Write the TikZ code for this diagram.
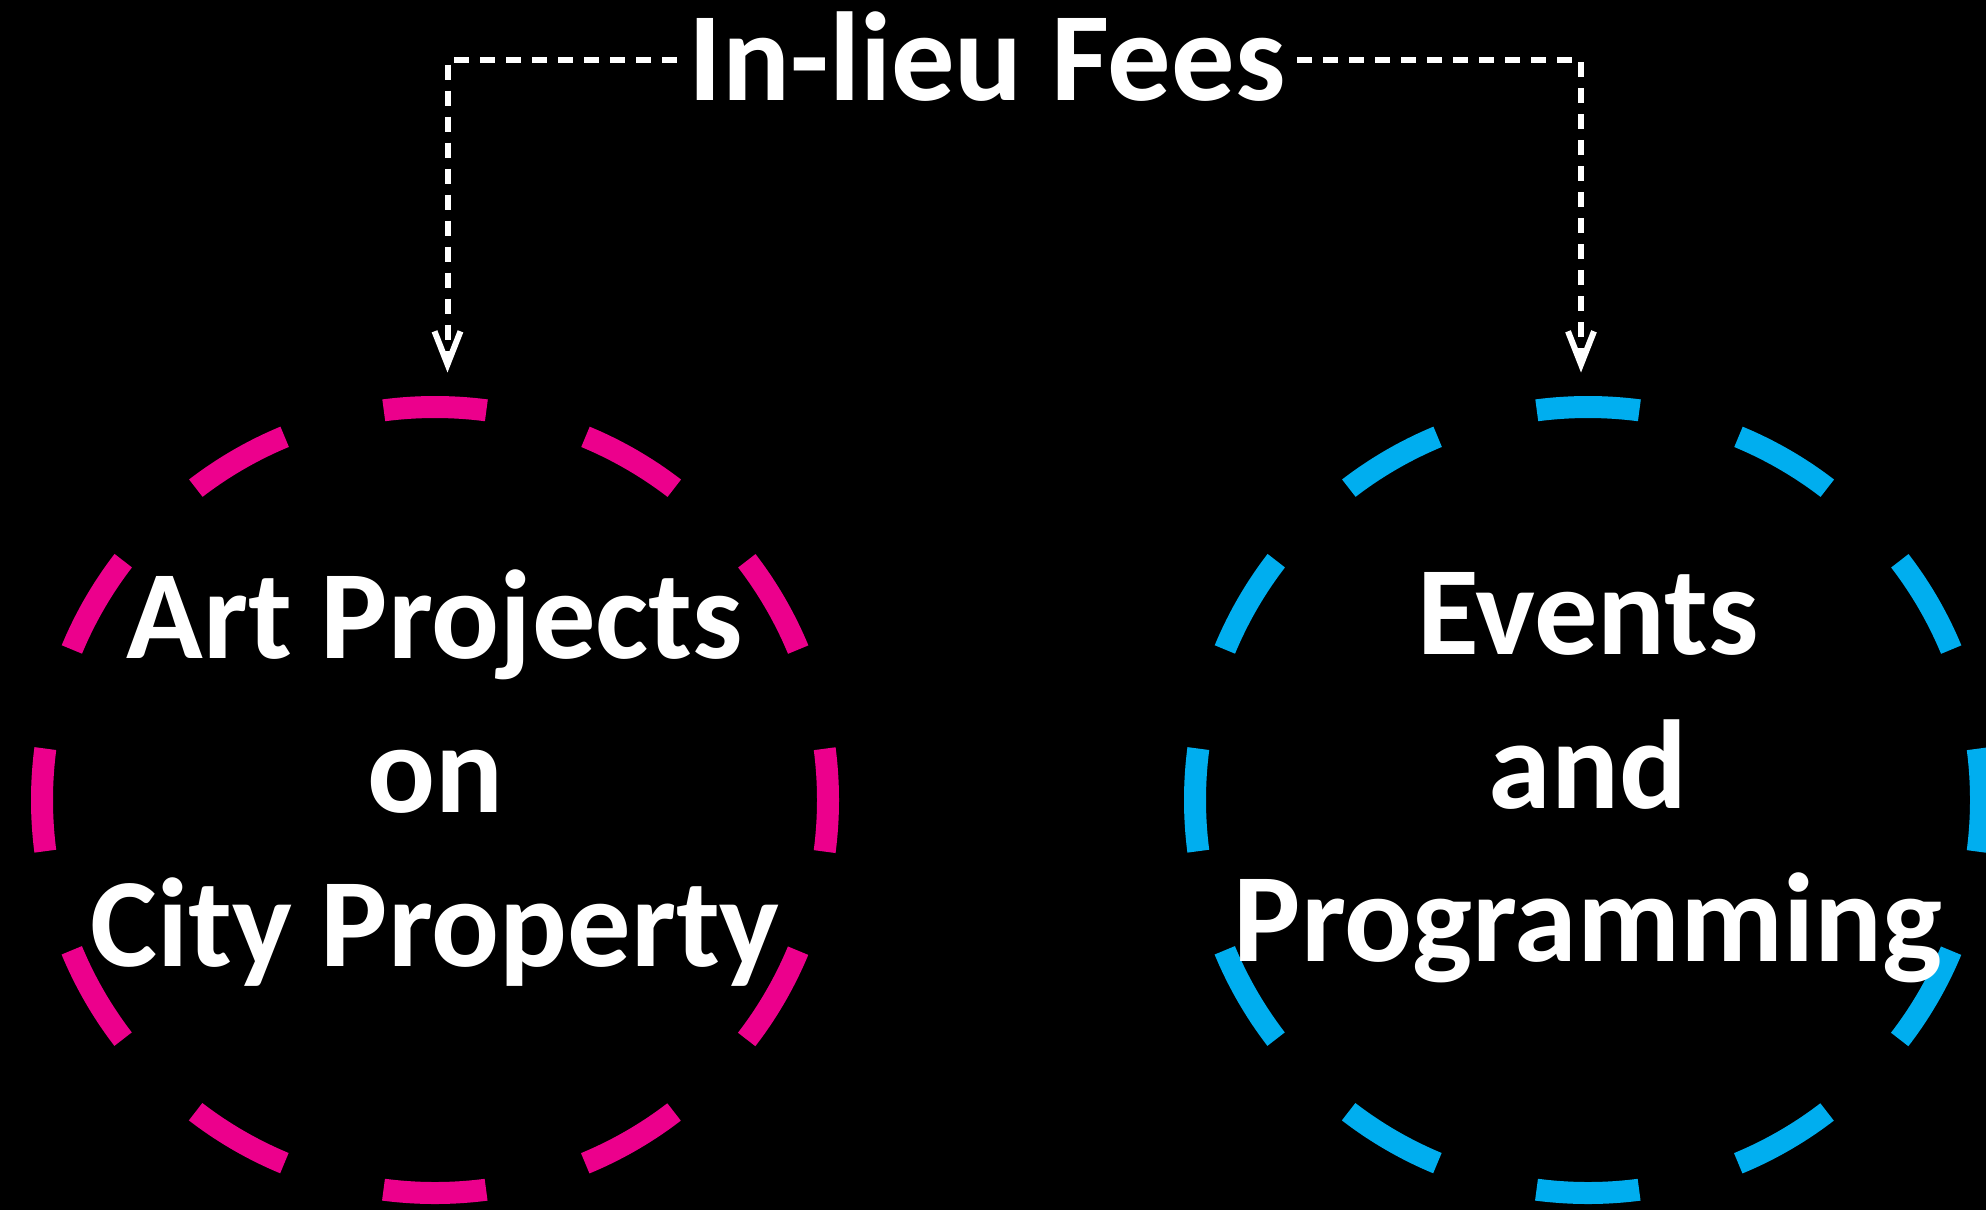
\documentclass[tikz,border=0pt]{standalone}
\usepackage{fontspec}
\setmainfont{Carlito}
\usetikzlibrary{arrows.meta}
\definecolor{artpink}{RGB}{236,0,140}
\definecolor{eventblue}{RGB}{0,174,239}

\begin{document}
\begin{tikzpicture}[
	ring/.style={circle, minimum size=7.86cm, inner sep=0pt, line width=0.22cm,
		dash pattern=on 1.0289cm off 1.0289cm, dash phase=0.5145cm},
	ringtext/.style={text=white, align=center, yshift=0.22cm,
		font=\bfseries\fontsize{36}{43.7}\selectfont},
	feeline/.style={white, line width=0.06cm, dash pattern=on 0.15cm off 0.11cm,
		-{Straight Barb[length=0.33cm, width=0.26cm]}},
	]
	%background
	\useasboundingbox (0,0) rectangle (19.86,-12.09);
	\fill[black] (-0.2,0.2) rectangle (20.06,-12.29);

	%title
	\node[text=white, font=\bfseries\fontsize{36}{43}\selectfont, text height=0.8cm, text depth=0pt,
		inner xsep=0.11cm, inner ysep=0pt] (fees) at (9.87,-0.6) {In-lieu Fees};

	%circles
	\node[ring, draw=artpink] (art) at (4.35,-8.0) {};
	\node[ring, draw=eventblue] (events) at (15.88,-8.0) {};

	%texts
	\node[ringtext] (arttext) at (art.center) {Art Projects\\on\\City Property};
	\node[ringtext] (eventstext) at (events.center) {Events\\and\\Programming};

	%arrows
	\draw[feeline] (fees.west) -| ([shift={(0.125,0.235)}]art.north);
	\draw[feeline] (fees.east) -| ([shift={(-0.07,0.235)}]events.north);
\end{tikzpicture}
\end{document}
